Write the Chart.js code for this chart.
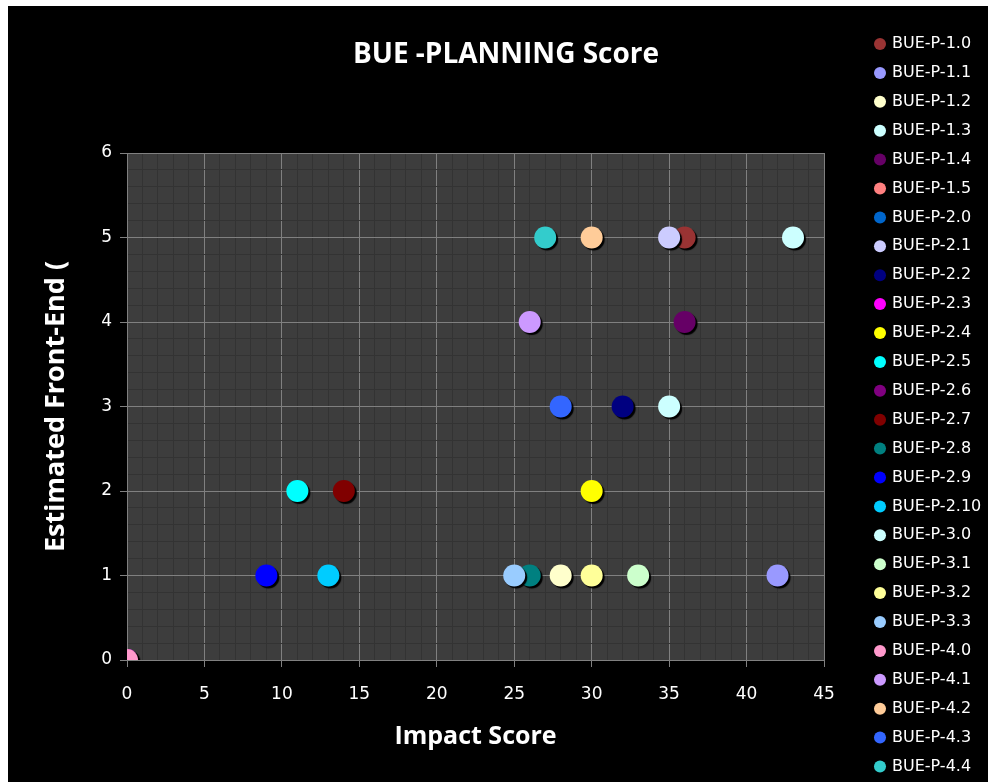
<!DOCTYPE html>
<html lang="en">
<head>
    <meta charset="UTF-8">
    <title>BUE -PLANNING Score</title>
    <style>
        * {
            margin: 0;
            padding: 0;
            box-sizing: border-box;
        }

        body {
            background-color: #fff;
            width: 988px;
            height: 782px;
            overflow: hidden;
        }

        .chart-wrap {
            position: absolute;
            left: 8px;
            top: 6px;
            width: 980px;
            height: 776px;
            background-color: #000;
        }
    </style>
</head>
<body>
    <div class="chart-wrap">
        <canvas id="scoreChart" width="980" height="776"></canvas>
    </div>

    <script src="https://cdn.jsdelivr.net/npm/chart.js@4.4.0/dist/chart.umd.min.js"></script>
    <script>
        // Data
        const seriesLabels = [
            'BUE-P-1.0', 'BUE-P-1.1', 'BUE-P-1.2', 'BUE-P-1.3', 'BUE-P-1.4', 'BUE-P-1.5',
            'BUE-P-2.0', 'BUE-P-2.1', 'BUE-P-2.2', 'BUE-P-2.3', 'BUE-P-2.4', 'BUE-P-2.5',
            'BUE-P-2.6', 'BUE-P-2.7', 'BUE-P-2.8', 'BUE-P-2.9', 'BUE-P-2.10',
            'BUE-P-3.0', 'BUE-P-3.1', 'BUE-P-3.2', 'BUE-P-3.3',
            'BUE-P-4.0', 'BUE-P-4.1', 'BUE-P-4.2', 'BUE-P-4.3', 'BUE-P-4.4'
        ];
        const impactScores = [36, 42, 28, 43, 36, 0, 0, 35, 32, 0, 30, 11, 0, 14, 26, 9, 13, 35, 33, 30, 25, 0, 26, 30, 28, 27];
        const frontEndScores = [5, 1, 1, 5, 4, 0, 0, 5, 3, 0, 2, 2, 0, 2, 1, 1, 1, 3, 1, 1, 1, 0, 4, 5, 3, 5];
        const seriesColors = [
            '#993333', '#9999FF', '#FFFFCC', '#CCFFFF', '#660066', '#FF8080',
            '#0066CC', '#CCCCFF', '#000080', '#FF00FF', '#FFFF00', '#00FFFF',
            '#800080', '#800000', '#008080', '#0000FF', '#00CCFF',
            '#CCFFFF', '#CCFFCC', '#FFFF99', '#99CCFF',
            '#FF99CC', '#CC99FF', '#FFCC99', '#3366FF', '#33CCCC'
        ];

        const xMax = 45;
        const yMax = 6;

        const majorGrid = '#808080';
        const minorGrid = '#333333';
        const plotFill = '#3d3d3d';

        const legendFont = { family: "'DejaVu Sans'", size: 16 };
        const legendPadding = 12.9;

        // work out the side padding so the legend and title land where they should
        // (chart.js adds 10px to a vertical legend's width)
        const measure = document.createElement('canvas').getContext('2d');
        measure.font = "16px 'DejaVu Sans'";
        const longest = Math.max(...seriesLabels.map(l => measure.measureText(l).width));
        const padRight = 86 - longest;
        const padLeft = 16 + padRight;
        const yTitleFont = { family: "'Open Sans'", size: 27, weight: 'bold' };
        const yTitlePad = 48 - padLeft - yTitleFont.size * 1.2 / 2;

        const isWhole = v => Math.abs(v - Math.round(v)) < 1e-6;

        const datasets = seriesLabels.map((label, i) => ({
            label: label,
            data: [{ x: impactScores[i], y: frontEndScores[i] }],
            backgroundColor: seriesColors[i],
            borderWidth: 0,
            pointRadius: 11,
            pointHoverRadius: 11,
            order: seriesLabels.length - i,
            clip: 0
        }));

        // dark plot area behind the grid
        const plotBackground = {
            id: 'plotBackground',
            beforeDraw(chart) {
                const { ctx, chartArea } = chart;
                ctx.save();
                ctx.fillStyle = plotFill;
                ctx.fillRect(chartArea.left, chartArea.top, chartArea.right - chartArea.left, chartArea.bottom - chartArea.top);
                ctx.restore();
            }
        };

        // black drop shadow under the markers
        const markerShadow = {
            id: 'markerShadow',
            beforeDatasetsDraw(chart) {
                const ctx = chart.ctx;
                ctx.save();
                ctx.shadowColor = '#000';
                ctx.shadowOffsetX = 2;
                ctx.shadowOffsetY = 2;
                ctx.shadowBlur = 1;
            },
            afterDatasetsDraw(chart) {
                chart.ctx.restore();
            }
        };

        new Chart(document.getElementById('scoreChart'), {
            type: 'scatter',
            data: { datasets: datasets },
            options: {
                responsive: false,
                animation: false,
                layout: {
                    padding: { top: 17.1, bottom: -7, left: padLeft, right: padRight }
                },
                plugins: {
                    title: {
                        display: true,
                        text: 'BUE -PLANNING Score',
                        color: '#fff',
                        font: { family: "'Open Sans'", size: 28, weight: 'bold' },
                        padding: { top: 15.6, bottom: 80.7 }
                    },
                    legend: {
                        position: 'right',
                        align: 'start',
                        labels: {
                            usePointStyle: true,
                            pointStyle: 'circle',
                            boxWidth: 8,
                            boxHeight: 8.5,
                            padding: legendPadding,
                            color: '#fff',
                            font: legendFont,
                            sort: (a, b) => a.datasetIndex - b.datasetIndex
                        }
                    },
                    tooltip: { enabled: false }
                },
                scales: {
                    x: {
                        type: 'linear',
                        min: 0,
                        max: xMax,
                        afterFit: s => { s.height = 129; },
                        ticks: {
                            stepSize: 1,
                            autoSkip: false,
                            maxRotation: 0,
                            padding: 17,
                            color: '#fff',
                            font: { family: "'DejaVu Sans'", size: 17 },
                            callback: v => (v % 5 === 0 ? String(v) : '')
                        },
                        grid: {
                            color: c => (c.tick && c.tick.value % 5 === 0 ? majorGrid : minorGrid),
                            tickColor: c => (c.tick && c.tick.value % 5 === 0 ? majorGrid : 'transparent'),
                            tickLength: 7
                        },
                        border: { color: majorGrid },
                        title: {
                            display: true,
                            text: 'Impact Score',
                            color: '#fff',
                            font: { family: "'Open Sans'", size: 25, weight: 'bold' },
                            padding: { top: 0, bottom: 37 }
                        }
                    },
                    y: {
                        min: 0,
                        max: yMax,
                        afterFit: s => { s.width = 119 - padLeft; },
                        ticks: {
                            stepSize: 0.2,
                            autoSkip: false,
                            padding: 8,
                            color: '#fff',
                            font: { family: "'DejaVu Sans'", size: 17 },
                            callback: v => (isWhole(v) ? String(Math.round(v)) : '')
                        },
                        grid: {
                            color: c => (c.tick && isWhole(c.tick.value) ? majorGrid : minorGrid),
                            tickColor: c => (c.tick && isWhole(c.tick.value) ? majorGrid : 'transparent'),
                            tickLength: 7
                        },
                        border: { color: majorGrid },
                        title: {
                            display: true,
                            text: 'Estimated Front-End (',
                            color: '#fff',
                            font: yTitleFont,
                            padding: { top: yTitlePad, bottom: 0 }
                        }
                    },
                    // empty spacer between the plot and the legend
                    yGap: {
                        position: 'right',
                        display: true,
                        afterFit: s => { s.width = 39.1; },
                        grid: { display: false },
                        border: { display: false },
                        ticks: { display: false }
                    }
                }
            },
            plugins: [plotBackground, markerShadow]
        });
    </script>
</body>
</html>
